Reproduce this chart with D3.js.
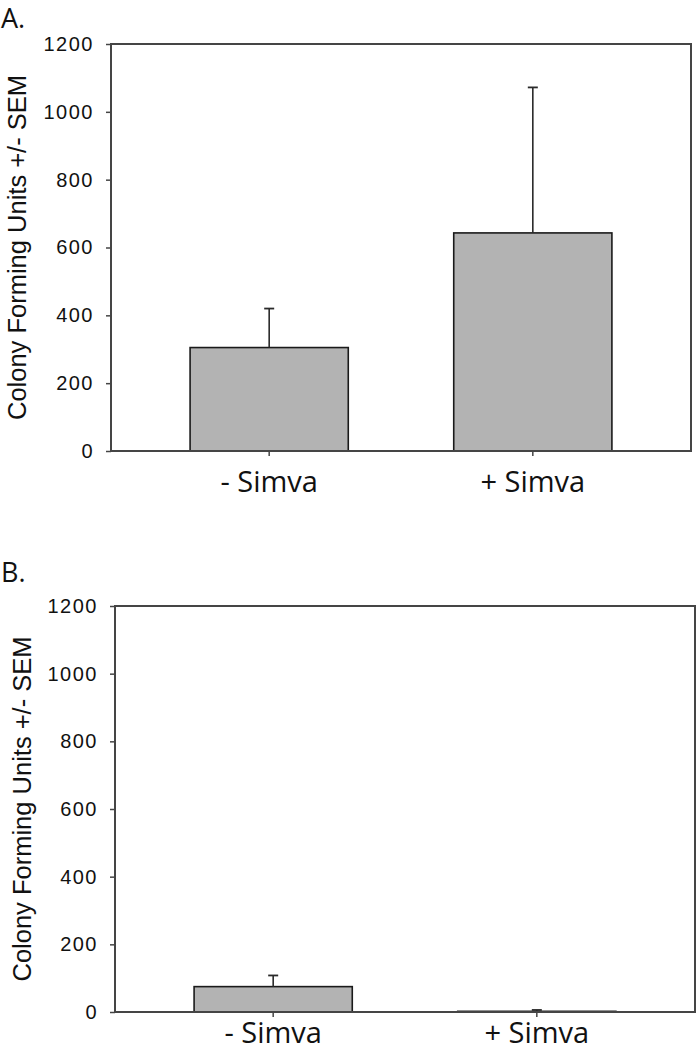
<!DOCTYPE html>
<html>
<head>
<meta charset="utf-8">
<script src="https://cdn.jsdelivr.net/npm/d3@7"></script>
<style>
  body { margin: 0; background: #fff; }
  svg { display: block; }
</style>
</head>
<body>
<div id="chart"></div>
<script>
// data
var categories = ["- Simva", "+ Simva"];
var panelNames = ["A.", "B."];
var meansA = [305, 643];
var semA = [115, 429];
var meansB = [75, 2];
var semB = [33, 4];
var yTicks = [0, 200, 400, 600, 800, 1000, 1200];
var yTitle = "Colony Forming Units +/- SEM";

var width = 697,
    height = 1050;

var svg = d3.select("#chart")
            .append("svg")
            .attr("width", width)
            .attr("height", height);

// layout of the two panels
var panels = [
  { name: panelNames[0], means: meansA, sem: semA, left: 111, right: 691, top: 44, bottom: 451,
    nameY: 28, titleX: 26, labelPad: 15 },
  { name: panelNames[1], means: meansB, sem: semB, left: 115, right: 695, top: 606, bottom: 1012,
    nameY: 582, titleX: 31, labelPad: 5 }
];

panels.forEach(function(p) {
  var x = d3.scaleBand()
            .domain(categories)
            .range([p.left, p.right])
            .paddingInner(0.4)
            .paddingOuter(0.3);

  var y = d3.scaleLinear()
            .domain([0, 1200])
            .range([p.bottom, p.top]);

  var g = svg.append("g");

  // panel letter
  g.append("text")
    .attr("x", 1)
    .attr("y", p.nameY)
    .style("font-family", "Open Sans, sans-serif")
    .style("font-size", "27px")
    .style("fill", "#111")
    .text(p.name);

  // y axis title
  g.append("text")
    .attr("transform", "translate(" + p.titleX + "," + ((p.top + p.bottom) / 2) + ") rotate(-90)")
    .attr("text-anchor", "middle")
    .style("font-family", "Liberation Sans, Arial, sans-serif")
    .style("font-size", "25.5px")
    .style("fill", "#111")
    .text(yTitle);

  // bars
  g.selectAll(".bar")
    .data(p.means)
    .enter().append("rect")
    .attr("class", "bar")
    .attr("x", function(d, i) { return x(categories[i]); })
    .attr("y", function(d) { return y(d); })
    .attr("width", x.bandwidth())
    .attr("height", function(d) { return y(0) - y(d); })
    .style("fill", "#b3b3b3")
    .style("stroke", "#1a1a1a")
    .style("stroke-width", 1.6);

  // error bars (upper only)
  var err = g.selectAll(".err")
    .data(p.means)
    .enter().append("g")
    .attr("class", "err");

  err.append("line")
    .attr("x1", function(d, i) { return x(categories[i]) + x.bandwidth() / 2; })
    .attr("x2", function(d, i) { return x(categories[i]) + x.bandwidth() / 2; })
    .attr("y1", function(d) { return y(d); })
    .attr("y2", function(d, i) { return y(d + p.sem[i]); })
    .style("stroke", "#2a2a2a")
    .style("stroke-width", 1.6);

  err.append("line")
    .attr("x1", function(d, i) { return x(categories[i]) + x.bandwidth() / 2 - 5; })
    .attr("x2", function(d, i) { return x(categories[i]) + x.bandwidth() / 2 + 5; })
    .attr("y1", function(d, i) { return y(d + p.sem[i]); })
    .attr("y2", function(d, i) { return y(d + p.sem[i]); })
    .style("stroke", "#2a2a2a")
    .style("stroke-width", 1.8);

  // frame
  g.append("rect")
    .attr("x", p.left)
    .attr("y", p.top)
    .attr("width", p.right - p.left)
    .attr("height", p.bottom - p.top)
    .style("fill", "none")
    .style("stroke", "#454545")
    .style("stroke-width", 2);

  // y axis
  var yAxis = g.append("g")
    .attr("transform", "translate(" + p.left + ",0)")
    .call(d3.axisLeft(y).tickValues(yTicks).tickFormat(d3.format("d")).tickSize(5).tickPadding(12));
  yAxis.select(".domain").remove();
  yAxis.selectAll("line").style("stroke", "#454545").style("stroke-width", 1.5);
  yAxis.selectAll("text")
    .style("font-family", "Liberation Sans, Arial, sans-serif")
    .style("font-size", "20px")
    .style("letter-spacing", "1.5px")
    .style("fill", "#111");

  // x axis
  var xAxis = g.append("g")
    .attr("transform", "translate(0," + p.bottom + ")")
    .call(d3.axisBottom(x).tickSize(5).tickPadding(p.labelPad));
  xAxis.select(".domain").remove();
  xAxis.selectAll("line").style("stroke", "#454545").style("stroke-width", 1.5);
  xAxis.selectAll("text")
    .style("font-family", "Open Sans, sans-serif")
    .style("font-size", "29px")
    .style("fill", "#111");
});
</script>
</body>
</html>
